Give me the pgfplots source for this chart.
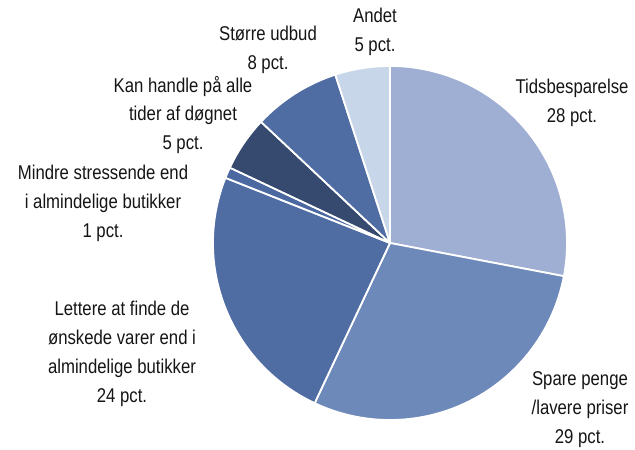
\documentclass[border=0pt]{standalone}
\usepackage{pgfplots}
\usepackage{pgfplotstable}
\pgfplotsset{compat=1.18}
\usepackage{fontspec}
\setmainfont{Liberation Sans}[FakeStretch=0.84]
\definecolor{c1}{HTML}{9EAFD3}
\definecolor{c2}{HTML}{6D89B9}
\definecolor{c3}{HTML}{506DA3}
\definecolor{c4}{HTML}{4C68A0}
\definecolor{c5}{HTML}{354A6E}
\definecolor{c6}{HTML}{506DA3}
\definecolor{c7}{HTML}{C8D6EA}
\definecolor{txt}{HTML}{151515}
\pgfplotstableread{
value color
28 c1
29 c2
24 c3
1 c4
5 c5
8 c6
5 c7
}\piedata
\begin{document}
\begin{tikzpicture}
\begin{axis}[
  at={(0,0)}, anchor=south west,
  scale only axis, width=635bp, height=450bp,
  xmin=0, xmax=635, ymin=0, ymax=450,
  hide axis, clip=false,
]
\pgfplotsextra{
  \gdef\cum{0}
  \foreach \i in {0,...,6} {
    \pgfplotstablegetelem{\i}{value}\of\piedata \let\v\pgfplotsretval
    \pgfplotstablegetelem{\i}{color}\of\piedata \let\c\pgfplotsretval
    \pgfmathsetmacro\a{90-3.6*\cum}
    \pgfmathsetmacro\b{\a-3.6*\v}
    \fill[fill=\c, draw=white, line width=1.8bp, line join=round]
      (axis cs:390,207) -- ++(\a:177bp) arc[start angle=\a, end angle=\b, radius=177bp] -- cycle;
    \pgfmathsetmacro\newcum{\cum+\v}
    \xdef\cum{\newcum}
  }
}
\begin{scope}[every node/.style={align=center, inner sep=0pt, text=txt, font=\fontsize{20}{29}\selectfont}]
\node at (axis cs:572,347) {Tidsbesparelse\\28 pct.};
\node at (axis cs:580,40) {Spare penge\\/lavere priser\\29 pct.};
\node at (axis cs:122,96) {Lettere at finde de\\ønskede varer end i\\almindelige butikker\\24 pct.};
\node at (axis cs:103,247) {Mindre stressende end\\i almindelige butikker\\1 pct.};
\node at (axis cs:183,335) {Kan handle på alle\\tider af døgnet\\5 pct.};
\node at (axis cs:268,400) {Større udbud\\8 pct.};
\node at (axis cs:375,418) {Andet\\5 pct.};
\end{scope}
\end{axis}
\pgfresetboundingbox
\path (0,0) rectangle (635bp,450bp);
\end{tikzpicture}
\end{document}
